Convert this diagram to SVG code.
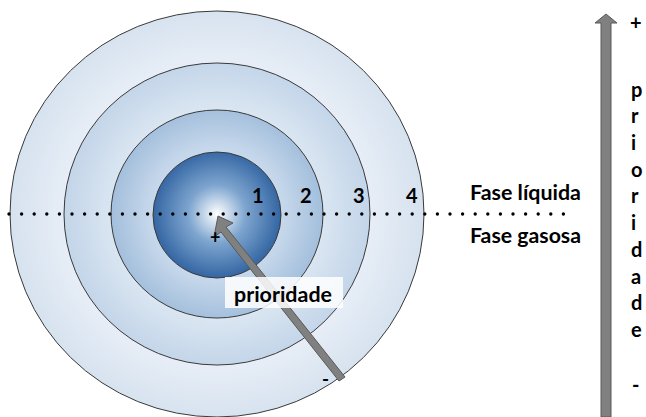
<svg xmlns="http://www.w3.org/2000/svg" width="646" height="417" viewBox="0 0 646 417">
<defs>
<radialGradient id="g4" gradientUnits="userSpaceOnUse" cx="217" cy="214" r="207"><stop offset="0" stop-color="#f4f7fb"/><stop offset="0.75" stop-color="#e6edf6"/><stop offset="1" stop-color="#d6e2ef"/></radialGradient>
<radialGradient id="g3" gradientUnits="userSpaceOnUse" cx="217" cy="214" r="153"><stop offset="0" stop-color="#f0f5fa"/><stop offset="0.7" stop-color="#d9e5f1"/><stop offset="1" stop-color="#c3d5e9"/></radialGradient>
<radialGradient id="g2" gradientUnits="userSpaceOnUse" cx="217" cy="214" r="106"><stop offset="0" stop-color="#e8eff7"/><stop offset="0.65" stop-color="#c4d6ea"/><stop offset="1" stop-color="#a3bfdc"/></radialGradient>
<radialGradient id="g1" gradientUnits="userSpaceOnUse" cx="217" cy="214" r="64"><stop offset="0" stop-color="#ffffff"/><stop offset="0.45" stop-color="#7ea5cf"/><stop offset="1" stop-color="#3466a3"/></radialGradient>
<style>
.ring{stroke:#3a3a3a;stroke-width:1}
.t{font-family:Lato,"Open Sans","Liberation Sans",sans-serif;font-weight:bold;fill:#000}
.arr{fill:#808080;stroke:#595959;stroke-width:1}
</style>
</defs>
<g id="ring4"><ellipse class="ring" cx="217" cy="214" rx="207" ry="203" fill="url(#g4)"/></g>
<g id="ring3"><ellipse class="ring" cx="217" cy="214" rx="153" ry="151" fill="url(#g3)"/></g>
<g id="ring2"><ellipse class="ring" cx="217" cy="214" rx="106" ry="104" fill="url(#g2)"/></g>
<g id="ring1"><ellipse class="ring" cx="217" cy="215" rx="64" ry="63" fill="url(#g1)"/></g>
<g id="connectors">
<line x1="9" y1="214" x2="576" y2="214" stroke="#000" stroke-width="3.4" stroke-linecap="round" stroke-dasharray="0 12.6"/>
<polygon class="arr" points="218,216 233,223 226,227 345,377 339,381 221,232 214,237"/>
<polygon class="arr" points="606,14 617,23 611,23 611,417 601,417 601,23 595,23"/>
</g>
<g id="labels">
<text class="t" x="252" y="203" font-size="20">1</text>
<text class="t" x="300" y="203" font-size="20">2</text>
<text class="t" x="353" y="203" font-size="20">3</text>
<text class="t" x="406" y="203" font-size="20">4</text>
<text class="t" x="210" y="244" font-size="18">+</text>
<text class="t" x="322" y="386" font-size="19">-</text>
<text class="t" x="470" y="200" font-size="20" textLength="111" lengthAdjust="spacingAndGlyphs">Fase líquida</text>
<text class="t" x="470" y="243" font-size="20" textLength="111" lengthAdjust="spacingAndGlyphs">Fase gasosa</text>
</g>
<g id="prioridade-label">
<rect x="225" y="277" width="118" height="31" fill="#ffffff" opacity="0.85"/>
<text class="t" x="234" y="302" font-size="21" textLength="98" lengthAdjust="spacingAndGlyphs">prioridade</text>
</g>
<g id="scale-text" class="t" font-size="20">
<text x="630" y="30">+</text>
<text x="631" y="97">p</text>
<text x="631" y="123">r</text>
<text x="631" y="150">i</text>
<text x="631" y="177">o</text>
<text x="631" y="203">r</text>
<text x="631" y="230">i</text>
<text x="631" y="257">d</text>
<text x="631" y="284">a</text>
<text x="631" y="310">d</text>
<text x="631" y="337">e</text>
<text x="632" y="392">-</text>
</g>
</svg>
